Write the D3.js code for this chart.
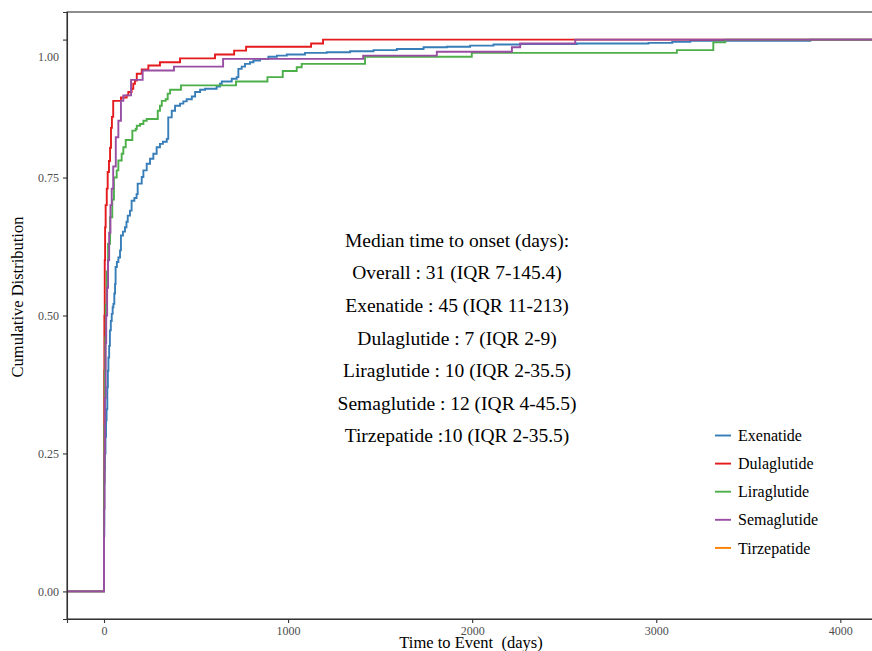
<!DOCTYPE html>
<html>
<head>
<meta charset="utf-8">
<script src="https://cdn.jsdelivr.net/npm/d3@7"></script>
<style>
  body { margin: 0; background: #fff; }
  svg { display: block; font-family: "Liberation Serif", "Times New Roman", serif; }
</style>
</head>
<body>
<div id="chart"></div>
<script>
// ECDF step points: [day, cumulative proportion]
const exenatide = [
  [0, 0.10], [1, 0.195], [3, 0.22], [5, 0.25], [8, 0.28], [11, 0.31], [14, 0.33], [18, 0.37],
  [21, 0.40], [24, 0.424], [28, 0.445], [32, 0.473], [37, 0.49], [42, 0.503], [47, 0.515],
  [51, 0.521], [56, 0.54], [60, 0.557], [63, 0.588], [70, 0.597], [78, 0.605], [87, 0.618],
  [92, 0.645], [103, 0.652], [114, 0.66], [122, 0.67], [129, 0.681], [141, 0.69], [150, 0.708],
  [165, 0.713], [177, 0.72], [183, 0.739], [205, 0.751], [214, 0.763], [232, 0.775], [250, 0.784],
  [268, 0.793], [286, 0.805], [304, 0.811], [320, 0.815], [341, 0.82], [349, 0.859], [368, 0.871],
  [386, 0.88], [413, 0.884], [431, 0.888], [449, 0.892], [477, 0.897], [495, 0.905], [522, 0.909],
  [549, 0.911], [612, 0.915], [630, 0.92], [640, 0.924], [694, 0.929], [721, 0.932], [730, 0.947],
  [748, 0.951], [766, 0.956], [793, 0.959], [812, 0.962], [848, 0.965], [893, 0.969], [939, 0.971],
  [993, 0.973], [1092, 0.976], [1210, 0.977], [1337, 0.979], [1464, 0.981], [1591, 0.983],
  [1736, 0.986], [1862, 0.987], [1989, 0.989], [2116, 0.991], [2261, 0.992], [2569, 0.993],
  [2958, 0.994], [3087, 0.996], [3185, 0.998], [3837, 1.0]
];
const dulaglutide = [
  [0, 0.2], [1, 0.4], [2, 0.5], [4, 0.6], [6, 0.66], [9, 0.7], [15, 0.73], [20, 0.76], [27, 0.78],
  [33, 0.804], [38, 0.84], [43, 0.86], [50, 0.889], [92, 0.895], [123, 0.899], [132, 0.905],
  [150, 0.911], [159, 0.92], [168, 0.926], [178, 0.938], [205, 0.946], [241, 0.953], [304, 0.959],
  [413, 0.966], [603, 0.973], [707, 0.98], [772, 0.987], [1125, 0.993], [1190, 1.0]
];
const liraglutide = [
  [0, 0.12], [1, 0.2], [2, 0.3], [4, 0.4], [7, 0.46], [10, 0.52], [15, 0.58], [22, 0.63],
  [33, 0.678], [45, 0.71], [54, 0.75], [69, 0.763], [78, 0.781], [96, 0.793], [105, 0.805],
  [118, 0.818], [154, 0.835], [172, 0.838], [178, 0.844], [196, 0.847], [214, 0.853], [232, 0.856],
  [292, 0.871], [304, 0.88], [314, 0.889], [335, 0.892], [346, 0.902], [359, 0.909], [418, 0.917],
  [717, 0.924], [888, 0.932], [971, 0.943], [1047, 0.95], [1074, 0.956], [1418, 0.969],
  [1998, 0.976], [3112, 0.981], [3310, 0.995], [3375, 1.0]
];
const semaglutide = [
  [0, 0.1], [1, 0.15], [3, 0.25], [5, 0.35], [9, 0.45], [12, 0.5], [17, 0.55], [22, 0.6],
  [28, 0.65], [35, 0.7], [42, 0.73], [50, 0.77], [64, 0.823], [78, 0.853], [92, 0.889],
  [105, 0.899], [147, 0.927], [210, 0.944], [380, 0.951], [647, 0.965], [1408, 0.971],
  [1808, 0.978], [2216, 0.986], [2261, 0.993], [2560, 1.0]
];
const tirzepatide = [];

const seriesNames = ["Exenatide", "Dulaglutide", "Liraglutide", "Semaglutide", "Tirzepatide"];
const seriesData = [exenatide, dulaglutide, liraglutide, semaglutide, tirzepatide];
const seriesColors = ["#377EB8", "#E41A1C", "#4DAF4A", "#984EA3", "#FF7F00"];

const xTicks = [0, 1000, 2000, 3000, 4000];
const yTicks = [0, 0.25, 0.5, 0.75, 1];

const annotation = [
  "Median time to onset (days):",
  "Overall : 31 (IQR 7-145.4)",
  "Exenatide : 45 (IQR 11-213)",
  "Dulaglutide : 7 (IQR 2-9)",
  "Liraglutide : 10 (IQR 2-35.5)",
  "Semaglutide : 12 (IQR 4-45.5)",
  "Tirzepatide :10 (IQR 2-35.5)"
];

const width = 872;
const height = 651;
const margin = { top: 12, right: -9, bottom: 32, left: 67 };

const svg = d3.select("#chart")
    .append("svg")
    .attr("width", width)
    .attr("height", height);

const x = d3.scaleLinear()
    .domain([-201, 4221])
    .range([margin.left, width - margin.right]);

const y = d3.scaleLinear()
    .domain([-0.05, 1.05])
    .range([height - margin.bottom, margin.top]);

svg.append("clipPath").attr("id", "panel")
  .append("rect")
    .attr("x", margin.left).attr("y", margin.top)
    .attr("width", width - margin.right - margin.left)
    .attr("height", height - margin.bottom - margin.top);

// ecdf curves, padded to the panel edges like stat_ecdf
const line = d3.line()
    .x(d => x(d[0]))
    .y(d => y(d[1]))
    .curve(d3.curveStepAfter);

const curves = svg.append("g").attr("clip-path", "url(#panel)");
seriesData.forEach((pts, i) => {
  if (!pts.length) return;
  const full = [[-201, 0]].concat(pts, [[4221, pts[pts.length - 1][1]]]);
  curves.append("path")
      .attr("d", line(full))
      .attr("fill", "none")
      .attr("stroke", seriesColors[i])
      .attr("stroke-width", 1.9);
});

// panel frame
svg.append("rect")
    .attr("x", margin.left).attr("y", margin.top)
    .attr("width", width - margin.right - margin.left)
    .attr("height", height - margin.bottom - margin.top)
    .attr("fill", "none")
    .attr("stroke", "#333")
    .attr("stroke-width", 1.1);

const xAxis = svg.append("g")
    .attr("transform", `translate(0, ${height - margin.bottom})`)
    .call(d3.axisBottom(x).tickValues(xTicks).tickSize(4).tickPadding(3).tickFormat(d3.format("d")));

const yAxis = svg.append("g")
    .attr("transform", `translate(${margin.left}, 0)`)
    .call(d3.axisLeft(y).tickValues(yTicks).tickSize(4).tickPadding(4).tickFormat(d3.format(".2f")));

[xAxis, yAxis].forEach(g => {
  g.select(".domain").attr("stroke", "#333").attr("stroke-width", 1.1);
  g.selectAll(".tick line").attr("stroke", "#333").attr("stroke-width", 1.1);
  g.selectAll(".tick text")
      .attr("fill", "#4d4d4d")
      .style("font-family", "'Liberation Serif', serif")
      .style("font-size", "12px");
});
// the 1.00 label sits a little below its tick in the original
yAxis.selectAll(".tick text").filter(d => d === 1).attr("dy", "1.75em");

svg.append("text")
    .attr("x", 471)
    .attr("y", 648)
    .attr("text-anchor", "middle")
    .style("font-size", "16.5px")
    .style("white-space", "pre")
    .text("Time to Event  (days)");

svg.append("text")
    .attr("transform", "translate(23, 297) rotate(-90)")
    .attr("text-anchor", "middle")
    .style("font-size", "16.5px")
    .text("Cumulative Distribution");

// median annotation
svg.append("g").selectAll("text")
    .data(annotation)
    .enter()
    .append("text")
    .attr("x", 457)
    .attr("y", (d, i) => 240 + i * 32.6)
    .attr("dy", "0.35em")
    .attr("text-anchor", "middle")
    .style("font-size", "19.5px")
    .text(d => d);

// legend
const legend = svg.append("g");
seriesNames.forEach((name, i) => {
  const ly = 435.5 + i * 28.1;
  legend.append("line")
      .attr("x1", 715).attr("x2", 731)
      .attr("y1", ly).attr("y2", ly)
      .attr("stroke", seriesColors[i])
      .attr("stroke-width", 1.9);
  legend.append("text")
      .attr("x", 738)
      .attr("y", ly)
      .attr("dy", "0.35em")
      .style("font-size", "16px")
      .text(name);
});
</script>
</body>
</html>
